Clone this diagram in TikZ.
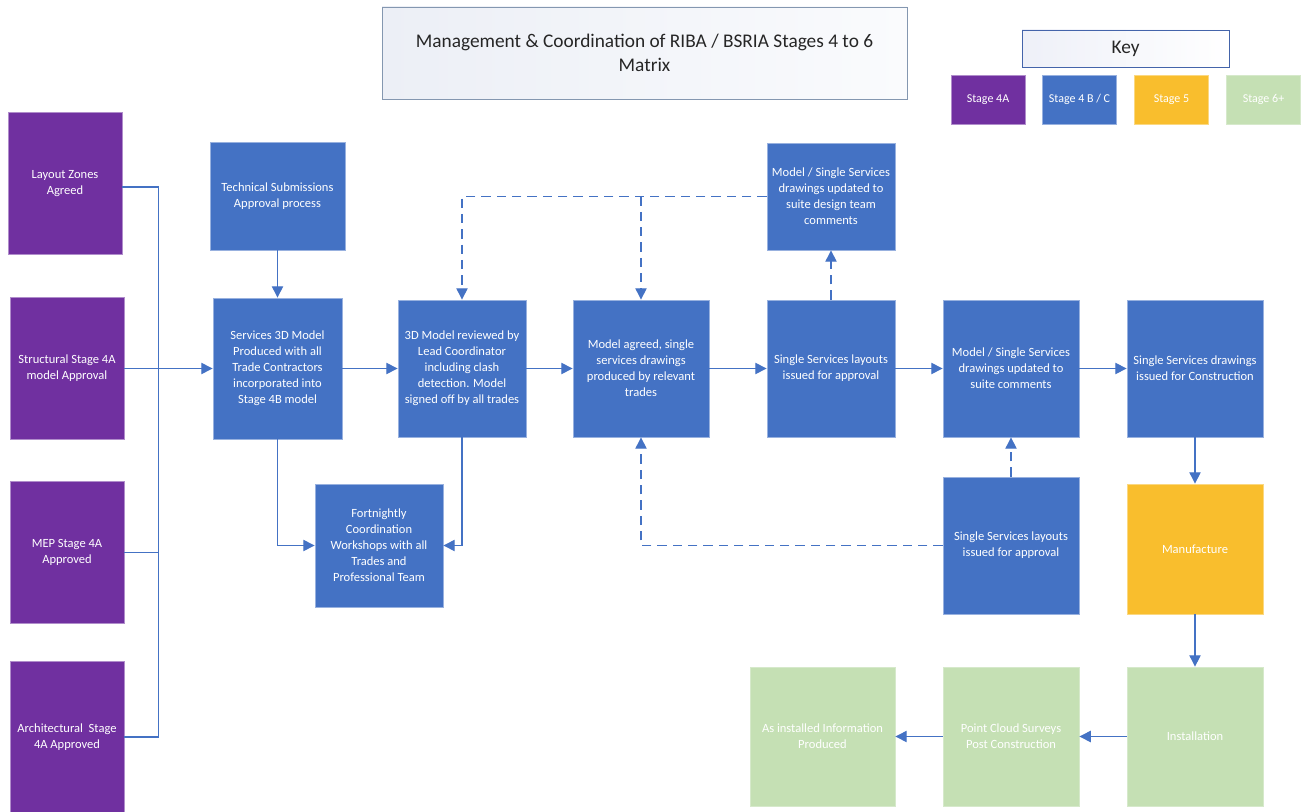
\documentclass[tikz,border=0pt]{standalone}
\usepackage{fontspec}
\setmainfont{Carlito}
\usetikzlibrary{arrows.meta,calc}
\definecolor{cpurple}{RGB}{112,48,160}
\definecolor{cblue}{RGB}{68,114,196}
\definecolor{corange}{RGB}{249,190,45}
\definecolor{cgreen}{RGB}{197,224,180}
\definecolor{cline}{RGB}{68,114,196}
\definecolor{ctitle}{RGB}{38,38,38}
\tikzset{
  boxbase/.style={rectangle, inner sep=2pt, align=center, text=white,
    font=\fontsize{9.4pt}{12pt}\selectfont, line width=0.6pt},
  pbox/.style={boxbase, fill=cpurple, draw=cpurple!55!white},
  bbox/.style={boxbase, fill=cblue, draw=cblue!55!white},
  obox/.style={boxbase, fill=corange, draw=corange!60!white},
  gbox/.style={boxbase, fill=cgreen, draw=cgreen!70!white},
  keybox/.style={minimum width=55.5pt, minimum height=36.75pt, font=\fontsize{9pt}{11pt}\selectfont},
  conn/.style={draw=cline, line width=0.8pt},
  arr/.style={conn, -{Triangle[width=8.5pt,length=8.5pt]}},
  darr/.style={arr, dash pattern=on 7pt off 4.5pt},
}
\begin{document}
\begin{tikzpicture}[x=0.75pt,y=-0.75pt]
\useasboundingbox (0,0) rectangle (1301,812);
% title and key
\node[rectangle, draw={rgb,255:red,132;green,151;blue,176}, line width=0.7pt,
  left color={rgb,255:red,236;green,239;blue,246}, right color={rgb,255:red,250;green,251;blue,253},
  minimum width=393.75pt, minimum height=69pt, align=center, text=ctitle,
  font=\fontsize{14.5pt}{17.5pt}\selectfont] (title) at (644.5,53)
  {Management \& Coordination of RIBA / BSRIA Stages 4 to 6\\Matrix};
\node[rectangle, draw={rgb,255:red,68;green,100;blue,170}, line width=0.7pt,
  left color={rgb,255:red,238;green,240;blue,248}, right color=white,
  minimum width=155.25pt, minimum height=27.75pt, text=ctitle,
  font=\fontsize{14.5pt}{16pt}\selectfont] (key) at (1125.5,48.5) {Key};
\node[pbox, keybox] (k1) at (988,99.5) {Stage 4A};
\node[bbox, keybox] (k2) at (1079.5,99.5) {Stage 4 B / C};
\node[obox, keybox] (k3) at (1171.5,99.5) {Stage 5};
\node[gbox, keybox] (k4) at (1263.5,99.5) {Stage 6+};
% left column
\node[pbox, minimum width=85.5pt, minimum height=107pt] (layout) at (65,183.5) {Layout Zones\\Agreed};
\node[pbox, minimum width=85.5pt, minimum height=106.5pt] (struct) at (67,368.5) {Structural Stage 4A\\model Approval};
\node[pbox, minimum width=85.5pt, minimum height=107pt] (mep) at (67,552.5) {MEP Stage 4A\\Approved};
\node[pbox, minimum width=85.5pt, minimum height=114pt] (arch) at (67,737) {Architectural\ \ Stage\\4A Approved};
% blue column
\node[bbox, minimum width=101.25pt, minimum height=81pt] (tech) at (277.5,196) {Technical Submissions\\Approval process};
\node[bbox, minimum width=96.75pt, minimum height=105.75pt] (serv) at (277.5,368.5) {Services 3D Model\\Produced with all\\Trade Contractors\\incorporated into\\Stage 4B model};
\node[bbox, minimum width=96pt, minimum height=102.75pt] (rev) at (462,368.5) {3D Model reviewed by\\Lead Coordinator\\including clash\\detection. Model\\signed off by all trades};
\node[bbox, minimum width=96pt, minimum height=92.25pt] (fort) at (379,545.5) {Fortnightly\\Coordination\\Workshops with all\\Trades and\\Professional Team};
\node[bbox, minimum width=102pt, minimum height=102.75pt] (agreed) at (641,368.5) {Model agreed, single\\services drawings\\produced by relevant\\trades};
\node[bbox, minimum width=96pt, minimum height=102.75pt] (ssl) at (831,368.5) {Single Services layouts\\issued for approval};
\node[bbox, minimum width=96pt, minimum height=80.25pt] (design) at (831,196.5) {Model / Single Services\\drawings updated to\\suite design team\\comments};
\node[bbox, minimum width=102pt, minimum height=102.75pt] (suite) at (1011,368.5) {Model / Single Services\\drawings updated to\\suite comments};
\node[bbox, minimum width=102pt, minimum height=102.75pt] (constr) at (1195,368.5) {Single Services drawings\\issued for Construction};
\node[bbox, minimum width=102pt, minimum height=102.75pt] (ssl2) at (1011,545.5) {Single Services layouts\\issued for approval};
\node[obox, minimum width=102pt, minimum height=97.5pt] (manu) at (1195,549) {Manufacture};
\node[gbox, minimum width=102pt, minimum height=104.25pt] (inst) at (1195,736.5) {Installation};
\node[gbox, minimum width=102pt, minimum height=104.25pt] (point) at (1011,736.5) {Point Cloud Surveys\\Post Construction};
\node[gbox, minimum width=108.75pt, minimum height=104.25pt] (asinst) at (822.5,736.5) {As installed Information\\Produced};
% bus on the left
\coordinate (busx) at (158.5,0);
\coordinate (ltop) at (122,187);
\draw[conn] (layout.east |- ltop) -- (ltop -| busx) -- (arch.east -| busx) -- (arch.east);
\draw[conn] (mep.east) -- (mep.east -| busx);
\draw[arr] (struct.east) -- (serv.west);
% solid arrows
\draw[arr] (tech.south) -- (serv.north);
\draw[arr] (serv.east) -- (rev.west);
\draw[arr] (rev.east) -- (agreed.west);
\draw[arr] (agreed.east) -- (ssl.west);
\draw[arr] (ssl.east) -- (suite.west);
\draw[arr] (suite.east) -- (constr.west);
\draw[arr] (constr.south) -- (manu.north);
\draw[arr] (manu.south) -- (inst.north);
\draw[arr] (inst.west) -- (point.east);
\draw[arr] (point.west) -- (asinst.east);
\draw[arr] (serv.south) |- (fort.west);
\draw[arr] (rev.south) |- (fort.east);
% dashed feedback
\draw[darr] (design.west) -| (rev.north);
\draw[darr] (design.west -| agreed.north) -- (agreed.north);
\draw[darr] (ssl.north) -- (design.south);
\draw[darr] (ssl2.north) -- (suite.south);
\draw[darr] (ssl2.west) -| (agreed.south);
\end{tikzpicture}
\end{document}
